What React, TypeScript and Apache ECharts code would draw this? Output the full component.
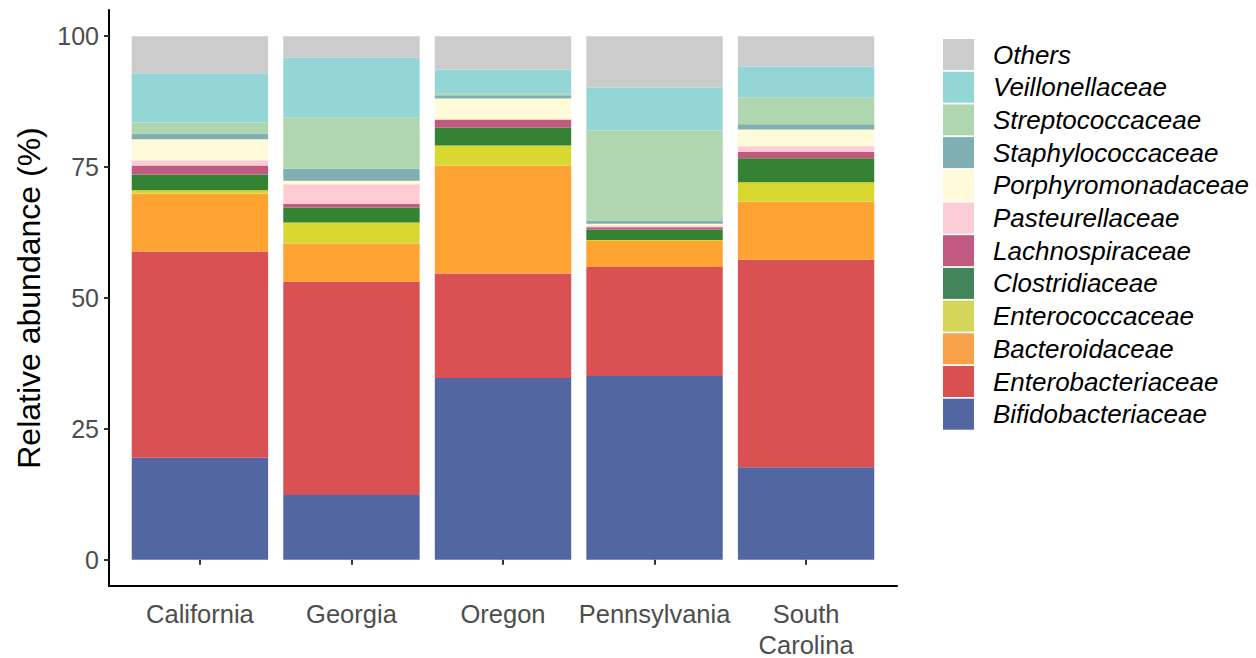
import React, { useEffect, useRef } from "react";
import * as echarts from "echarts";

const states = ["California", "Georgia", "Oregon", "Pennsylvania", "South\nCarolina"];

// Relative abundance (%) per family, in the order of `states`
const bifidobacteriaceae = [19.5, 12.4, 34.7, 35.1, 17.7];
const enterobacteriaceae = [39.4, 40.7, 20.0, 20.8, 39.6];
const bacteroidaceae = [11.0, 7.3, 20.6, 5.0, 11.1];
const enterococcaceae = [0.7, 4.0, 3.8, 0.2, 3.7];
const clostridiaceae = [3.0, 2.9, 3.4, 2.0, 4.6];
const lachnospiraceae = [1.7, 0.7, 1.6, 0.4, 1.2];
const pasteurellaceae = [1.0, 3.7, 0.0, 0.3, 1.1];
const porphyromonadaceae = [4.0, 0.7, 4.0, 0.4, 3.2];
const staphylococcaceae = [1.1, 2.3, 0.6, 0.6, 1.0];
const streptococcaceae = [2.1, 9.8, 0.3, 17.2, 5.1];
const veillonellaceae = [9.4, 11.4, 4.6, 8.2, 5.9];
const others = [7.1, 4.1, 6.4, 9.8, 5.8];

const yTicks = [0, 25, 50, 75, 100];

const families = [
  { name: "Bifidobacteriaceae", values: bifidobacteriaceae, color: "#5267A2", legend: "#5267A2" },
  { name: "Enterobacteriaceae", values: enterobacteriaceae, color: "#D95152", legend: "#D95050" },
  { name: "Bacteroidaceae", values: bacteroidaceae, color: "#FFA333", legend: "#F8A14B" },
  { name: "Enterococcaceae", values: enterococcaceae, color: "#D8D831", legend: "#D5D55A" },
  { name: "Clostridiaceae", values: clostridiaceae, color: "#348233", legend: "#43855B" },
  { name: "Lachnospiraceae", values: lachnospiraceae, color: "#C05A7E", legend: "#C05A7E" },
  { name: "Pasteurellaceae", values: pasteurellaceae, color: "#FFCCD5", legend: "#FCCCD6" },
  { name: "Porphyromonadaceae", values: porphyromonadaceae, color: "#FFFAD7", legend: "#FFFADA" },
  { name: "Staphylococcaceae", values: staphylococcaceae, color: "#7FAFB0", legend: "#7FAFB0" },
  { name: "Streptococcaceae", values: streptococcaceae, color: "#B0D6AF", legend: "#B0D6AF" },
  { name: "Veillonellaceae", values: veillonellaceae, color: "#94D6D6", legend: "#94D6D6" },
  { name: "Others", values: others, color: "#CCCCCC", legend: "#CCCCCC" },
];

const FONT = "'Liberation Sans', Arial, Helvetica, sans-serif";

export default function App() {
  const ref = useRef<HTMLDivElement>(null);

  useEffect(() => {
    document.body.style.margin = "0";
    if (!ref.current) return;
    const chart = echarts.init(ref.current, null, { renderer: "svg" });

    // Outer panel (axis lines) spans 0.4 .. 5.6 category units like ggplot's discrete expansion;
    // category bands span 0.5 .. 5.5
    const panelLeft = 109;
    const panelRight = 897;
    const unit = (panelRight - panelLeft) / 5.2;
    const bandLeft = panelLeft + 0.1 * unit;
    const bandRight = panelRight - 0.1 * unit;
    const top = 10;
    const bottom = 72;

    const option: any = {
      animation: false,
      backgroundColor: "#FFFFFF",
      textStyle: { fontFamily: FONT },
      grid: [
        {
          left: bandLeft,
          right: 1256 - bandRight,
          top,
          bottom,
          outerBoundsMode: "none",
          containLabel: false,
        },
        {
          left: panelLeft,
          right: 1256 - panelRight,
          top,
          bottom,
          outerBoundsMode: "none",
          containLabel: false,
        },
      ],
      legend: {
        orient: "vertical",
        left: 943,
        top: 39,
        padding: 0,
        itemWidth: 31,
        itemHeight: 31,
        itemGap: 1.7,
        icon: "rect",
        selectedMode: false,
        textStyle: {
          fontFamily: FONT,
          fontSize: 26,
          fontStyle: "italic",
          color: "#000000",
          lineHeight: 31,
          padding: [0, 0, 0, 14],
        },
        data: families
          .slice()
          .reverse()
          .map((f) => ({ name: f.name, itemStyle: { color: f.legend, borderWidth: 0 } })),
      },
      xAxis: [
        {
          gridIndex: 0,
          type: "category",
          data: states,
          boundaryGap: true,
          axisLine: { show: false },
          splitLine: { show: false },
          axisTick: {
            show: true,
            alignWithLabel: true,
            length: 5,
            lineStyle: { color: "#333333", width: 2 },
          },
          axisLabel: {
            fontFamily: FONT,
            fontSize: 25.5,
            color: "#4D4D4D",
            lineHeight: 31,
            margin: 12,
            interval: 0,
          },
        },
        {
          gridIndex: 1,
          type: "value",
          min: 0,
          max: 1,
          axisLine: { show: true, onZero: false, lineStyle: { color: "#000000", width: 2 } },
          axisTick: { show: false },
          axisLabel: { show: false },
          splitLine: { show: false },
        },
      ],
      yAxis: [
        {
          gridIndex: 0,
          type: "value",
          min: -5,
          max: 105,
          offset: bandLeft - panelLeft,
          name: "Relative abundance (%)",
          nameLocation: "middle",
          nameGap: 64,
          nameTextStyle: { fontFamily: FONT, fontSize: 32, color: "#000000" },
          splitLine: { show: false },
          axisLine: { show: true, onZero: false, lineStyle: { color: "#000000", width: 2 } },
          axisTick: {
            show: true,
            customValues: yTicks,
            length: 5,
            lineStyle: { color: "#333333", width: 2 },
          },
          axisLabel: {
            customValues: yTicks,
            fontFamily: FONT,
            fontSize: 25,
            color: "#4D4D4D",
            margin: 10,
          },
        },
        {
          gridIndex: 1,
          type: "value",
          min: 0,
          max: 1,
          show: false,
        },
      ],
      series: families.map((f) => ({
        name: f.name,
        type: "bar",
        stack: "total",
        xAxisIndex: 0,
        yAxisIndex: 0,
        barWidth: "90%",
        itemStyle: { color: f.color },
        emphasis: { disabled: true },
        data: f.values,
      })),
    };

    chart.setOption(option);
    return () => {
      chart.dispose();
    };
  }, []);

  return <div ref={ref} style={{ width: 1256, height: 658 }} />;
}
